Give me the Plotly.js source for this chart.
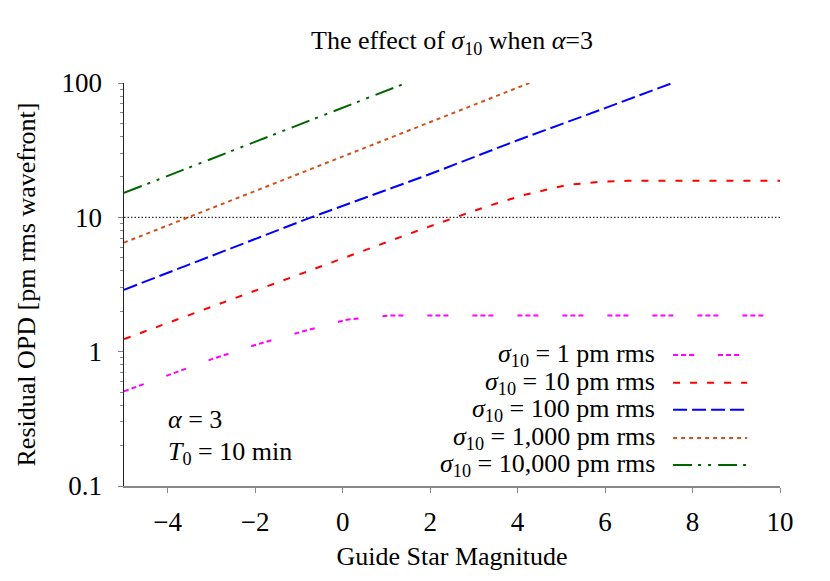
<!DOCTYPE html>
<html>
<head>
<meta charset="utf-8">
<script src="https://cdn.plot.ly/plotly-3.0.1.min.js"></script>
<style>
  html, body { margin: 0; padding: 0; background: #fff; }
  #chart { width: 830px; height: 581px; }
</style>
</head>
<body>
<div id="chart"></div>
<script>
  // values (guide star magnitude vs residual OPD)

  var magS1 = [-5, -2.96, -1.97, -0.9, 0.09, 0.7, 1.1, 10];
  var opdS1 = [0.507, 0.887, 1.13, 1.42, 1.73, 1.81, 1.86, 1.86];

  var magS10 = [-5, -3, -1, 1, 1.76, 2.52, 3.28, 4.12, 5.12, 5.88, 6.5, 10];
  var opdS10 = [1.24, 2.16, 3.75, 6.5, 8.05, 9.84, 12.0, 14.6, 17.4, 18.4, 18.7, 18.7];

  var magS100 = [-5, -3, -0.72, 2, 4, 6, 7.54];
  var opdS100 = [2.89, 5.15, 10, 21, 37.5, 65, 100];

  var magS1000 = [-5, -3.53, 0, 2, 4.27];
  var opdS1000 = [6.48, 10, 28.3, 51, 100];

  var magS10000 = [-5, -2, 0, 1.45];
  var opdS10000 = [15.2, 36.6, 65.6, 100];

  var refMag = [-5, 10];
  var refOpd = [10, 10];

  var labels = [
    '<i>σ</i><sub>10</sub> = 1 pm rms',
    '<i>σ</i><sub>10</sub> = 10 pm rms',
    '<i>σ</i><sub>10</sub> = 100 pm rms',
    '<i>σ</i><sub>10</sub> = 1,000 pm rms',
    '<i>σ</i><sub>10</sub> = 10,000 pm rms'
  ];
  var colors = ['#ff00ff', '#ff0000', '#0000ff', '#d2521b', '#006400'];
  var dashes = [
    '5px,3px,5px,3px,5px,24px',
    '7px,10px',
    '14px,5px',
    '4px,4px',
    '19px,6px,3px,7px,3px,7px'
  ];

  var yTickVals = [0.1, 1, 10, 100];
  var yTickText = ['0.1', '1', '10', '100'];

  var FONT = 'Liberation Serif, Times New Roman, serif';
  var TXT = 26;

  // traces

  var xs = [magS1, magS10, magS100, magS1000, magS10000];
  var ys = [opdS1, opdS10, opdS100, opdS1000, opdS10000];

  var data = [{
    x: refMag,
    y: refOpd,
    type: 'scatter',
    mode: 'lines',
    line: { color: '#000', width: 1, dash: '1.5px,2px' },
    hoverinfo: 'skip'
  }];

  for (var i = 0; i < xs.length; i++) {
    data.push({
      x: xs[i],
      y: ys[i],
      type: 'scatter',
      mode: 'lines',
      name: labels[i],
      line: { color: colors[i], width: 2, dash: dashes[i] }
    });
  }

  // minor ticks on the log axis
  var minorVals = [];
  [0.1, 1, 10].forEach(function (dec) {
    for (var k = 2; k <= 9; k++) minorVals.push(dec * k);
  });

  // legend drawn by hand: text right-aligned, sample line on the right
  var annotations = [];
  var shapes = [];
  var rowY = [0.325, 0.256, 0.189, 0.119, 0.052];
  for (var j = 0; j < labels.length; j++) {
    annotations.push({
      xref: 'paper', yref: 'paper',
      x: 0.811, y: rowY[j],
      xanchor: 'right', yanchor: 'middle',
      text: labels[j],
      showarrow: false,
      borderpad: 0,
      font: { family: FONT, size: TXT, color: '#000' }
    });
    shapes.push({
      type: 'line',
      xref: 'paper', yref: 'paper',
      x0: 0.837, x1: 0.95, y0: rowY[j], y1: rowY[j],
      line: { color: colors[j], width: 2, dash: dashes[j] }
    });
  }

  annotations.push({
    xref: 'paper', yref: 'paper',
    x: 0.064, y: 0.165,
    xanchor: 'left', yanchor: 'middle',
    text: '<i>α</i> = 3',
    showarrow: false,
    font: { family: FONT, size: TXT, color: '#000' }
  });
  annotations.push({
    xref: 'paper', yref: 'paper',
    x: 0.064, y: 0.082,
    xanchor: 'left', yanchor: 'middle',
    text: '<i>T</i><sub>0</sub> = 10 min',
    showarrow: false,
    font: { family: FONT, size: TXT, color: '#000' }
  });

  var layout = {
    width: 830,
    height: 581,
    margin: { l: 124, r: 50, t: 83, b: 95 },
    paper_bgcolor: '#fff',
    plot_bgcolor: '#fff',
    showlegend: false,
    font: { family: FONT, size: TXT, color: '#000' },
    title: {
      text: 'The effect of <i>σ</i><sub>10</sub> when <i>α</i>=3',
      font: { family: FONT, size: TXT, color: '#000' },
      x: 0.5, xref: 'paper',
      y: 1 - 40 / 581, yanchor: 'middle'
    },
    xaxis: {
      range: [-5, 10],
      tick0: 0,
      dtick: 2,
      ticks: 'outside',
      ticklen: 5,
      tickcolor: '#888',
      ticklabelstandoff: 6,
      showline: true,
      linecolor: '#888',
      linewidth: 1.5,
      showgrid: false,
      zeroline: false,
      tickfont: { family: FONT, size: 27 },
      title: { text: 'Guide Star Magnitude', standoff: 11, font: { family: FONT, size: TXT } }
    },
    yaxis: {
      type: 'log',
      range: [-1, 2],
      tickmode: 'array',
      tickvals: yTickVals,
      ticktext: yTickText,
      ticks: 'outside',
      ticklen: 5,
      tickcolor: '#888',
      ticklabelstandoff: 10,
      minor: { tickmode: 'array', tickvals: minorVals, ticks: 'outside', ticklen: 3, tickcolor: '#888' },
      showline: true,
      linecolor: '#222',
      linewidth: 1.5,
      showgrid: false,
      zeroline: false,
      tickfont: { family: FONT, size: 27 },
      title: { text: 'Residual OPD [pm rms wavefront]', standoff: 18, font: { family: FONT, size: TXT } }
    },
    annotations: annotations,
    shapes: shapes
  };

  Plotly.newPlot('chart', data, layout, { displayModeBar: false, staticPlot: true });
</script>
</body>
</html>
